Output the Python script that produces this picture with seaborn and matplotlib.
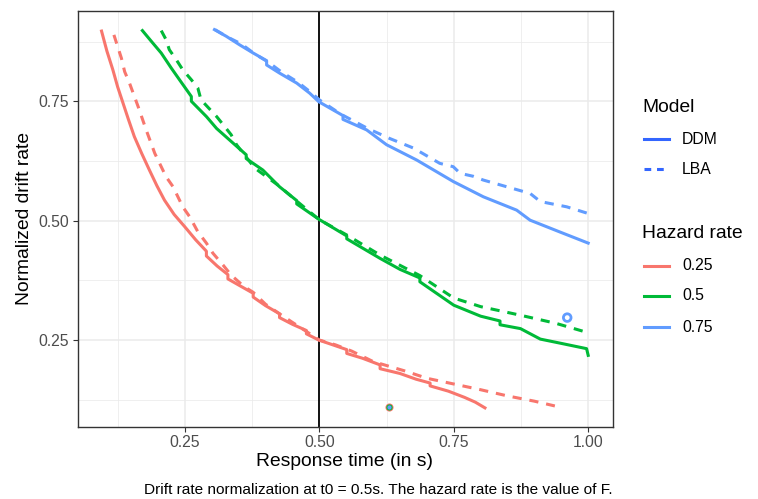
import matplotlib
matplotlib.use("Agg")
import matplotlib.pyplot as plt
from matplotlib.lines import Line2D
import numpy as np
import pandas as pd
import seaborn as sns

# ---------------- data ----------------
red_ddm_t = [0.095, 0.105, 0.116, 0.125, 0.135, 0.145, 0.156, 0.170, 0.184, 0.198, 0.212, 0.230,
             0.250, 0.270, 0.290, 0.290, 0.310, 0.330, 0.330, 0.355, 0.377, 0.377, 0.400, 0.426,
             0.426, 0.450, 0.476, 0.476, 0.499, 0.525, 0.551, 0.551, 0.580, 0.613, 0.613, 0.650,
             0.680, 0.706, 0.706, 0.740, 0.770, 0.790, 0.808]
red_ddm_v = [0.897, 0.855, 0.816, 0.780, 0.746, 0.712, 0.676, 0.640, 0.606, 0.573, 0.543, 0.513,
             0.487, 0.460, 0.436, 0.426, 0.405, 0.387, 0.378, 0.362, 0.348, 0.340, 0.322, 0.305,
             0.297, 0.283, 0.270, 0.263, 0.250, 0.240, 0.230, 0.222, 0.212, 0.198, 0.190, 0.180,
             0.168, 0.160, 0.154, 0.143, 0.130, 0.120, 0.108]
red_lba_t = [0.118, 0.132, 0.138, 0.147, 0.163, 0.178, 0.194, 0.206, 0.215, 0.228, 0.246, 0.259,
             0.274, 0.290, 0.302, 0.321, 0.336, 0.360, 0.377, 0.400, 0.426, 0.450, 0.476, 0.500,
             0.530, 0.560, 0.600, 0.630, 0.660, 0.700, 0.750, 0.800, 0.850, 0.900, 0.938]
red_lba_v = [0.889, 0.840, 0.812, 0.788, 0.739, 0.690, 0.641, 0.613, 0.592, 0.571, 0.529, 0.508,
             0.477, 0.453, 0.432, 0.407, 0.386, 0.362, 0.350, 0.325, 0.305, 0.287, 0.268, 0.250,
             0.240, 0.227, 0.205, 0.195, 0.185, 0.170, 0.158, 0.146, 0.133, 0.122, 0.112]

green_ddm_t = [0.171, 0.188, 0.206, 0.225, 0.240, 0.262, 0.262, 0.290, 0.309, 0.333, 0.364, 0.364,
               0.395, 0.426, 0.458, 0.458, 0.499, 0.551, 0.551, 0.613, 0.650, 0.687, 0.687, 0.750,
               0.800, 0.836, 0.836, 0.874, 0.911, 0.950, 0.997, 1.000]
green_ddm_v = [0.898, 0.875, 0.851, 0.819, 0.795, 0.760, 0.750, 0.718, 0.693, 0.669, 0.638, 0.630,
               0.606, 0.571, 0.542, 0.535, 0.503, 0.468, 0.462, 0.421, 0.398, 0.380, 0.372, 0.323,
               0.300, 0.290, 0.282, 0.274, 0.252, 0.243, 0.232, 0.218]
green_lba_t = [0.206, 0.215, 0.221, 0.234, 0.246, 0.262, 0.274, 0.280, 0.309, 0.324, 0.336, 0.346,
               0.380, 0.426, 0.458, 0.500, 0.551, 0.613, 0.687, 0.750, 0.800, 0.874, 0.940, 0.998]
green_lba_v = [0.898, 0.879, 0.858, 0.837, 0.816, 0.795, 0.778, 0.753, 0.718, 0.697, 0.680, 0.659,
               0.610, 0.572, 0.541, 0.502, 0.470, 0.428, 0.385, 0.338, 0.320, 0.302, 0.285, 0.266]

blue_ddm_t = [0.305, 0.327, 0.352, 0.377, 0.402, 0.402, 0.426, 0.458, 0.482, 0.499, 0.544, 0.544,
              0.588, 0.625, 0.681, 0.749, 0.805, 0.867, 0.892, 0.948, 1.000]
blue_ddm_v = [0.900, 0.886, 0.868, 0.851, 0.835, 0.826, 0.809, 0.788, 0.767, 0.749, 0.720, 0.712,
              0.690, 0.659, 0.627, 0.582, 0.550, 0.522, 0.501, 0.476, 0.453]
blue_lba_t = [0.306, 0.330, 0.355, 0.380, 0.405, 0.430, 0.460, 0.485, 0.500, 0.540, 0.590, 0.631,
              0.675, 0.724, 0.749, 0.762, 0.786, 0.805, 0.836, 0.892, 0.911, 0.960, 1.000]
blue_lba_v = [0.900, 0.884, 0.870, 0.849, 0.832, 0.811, 0.790, 0.768, 0.753, 0.723, 0.693, 0.672,
              0.652, 0.620, 0.613, 0.599, 0.593, 0.585, 0.575, 0.557, 0.540, 0.529, 0.515]

pts_t = [0.629, 0.629, 0.629]
pts_v = [0.110, 0.110, 0.110]
pts_h = ["0.25", "0.5", "0.75"]
ring_t = [0.961]
ring_v = [0.297]

hazard_levels = ["0.25", "0.5", "0.75"]
model_levels = ["DDM", "LBA"]
palette = {"0.25": "#F8766D", "0.5": "#00BA38", "0.75": "#619CFF"}

series = [
    ("0.25", "DDM", red_ddm_t, red_ddm_v), ("0.25", "LBA", red_lba_t, red_lba_v),
    ("0.5", "DDM", green_ddm_t, green_ddm_v), ("0.5", "LBA", green_lba_t, green_lba_v),
    ("0.75", "DDM", blue_ddm_t, blue_ddm_v), ("0.75", "LBA", blue_lba_t, blue_lba_v),
]
frames = [pd.DataFrame({"t": t, "v": v, "hazard": h, "model": m}) for h, m, t, v in series]
df = pd.concat(frames, ignore_index=True)

# ---------------- figure ----------------
plt.rcParams["font.family"] = ["Liberation Sans", "DejaVu Sans"]
fig = plt.figure(figsize=(7.58, 4.99), dpi=100)
ax = fig.add_axes([77.5 / 758, 1 - 426.5 / 499, 535 / 758, 415.5 / 499])

ax.set_facecolor("white")
ax.set_xlim(0.0503, 1.0452)
ax.set_ylim(0.069, 0.939)
ax.set_xticks([0.25, 0.5, 0.75, 1.0])
ax.set_xticklabels(["0.25", "0.50", "0.75", "1.00"])
ax.set_yticks([0.25, 0.5, 0.75])
ax.set_yticklabels(["0.25", "0.50", "0.75"])
ax.set_xticks([0.125, 0.375, 0.625, 0.875], minor=True)
ax.set_yticks([0.125, 0.375, 0.625, 0.875], minor=True)
ax.grid(True, which="major", color="#EBEBEB", linewidth=1.1, zorder=0)
ax.grid(True, which="minor", color="#EBEBEB", linewidth=0.55, zorder=0)
ax.set_axisbelow(True)
ax.tick_params(which="minor", length=0)
ax.tick_params(which="major", length=3.5, width=0.8, color="#333333",
               labelcolor="#4D4D4D", labelsize=11.3, pad=2.5)
for s in ax.spines.values():
    s.set_color("#333333")
    s.set_linewidth(1.0)

ax.axvline(0.5, color="black", linewidth=1.3, zorder=1)

sns.lineplot(data=df, x="t", y="v", hue="hazard", style="model",
             hue_order=hazard_levels, style_order=model_levels, palette=palette,
             dashes={"DDM": "", "LBA": (3.0, 2.6)}, sort=False, estimator=None,
             linewidth=2.2, legend=False, ax=ax, zorder=3)

ptdf = pd.DataFrame({"t": pts_t, "v": pts_v, "hazard": pts_h, "size": [34, 20, 9]})
for _, r in ptdf.iterrows():
    ax.scatter([r["t"]], [r["v"]], s=r["size"], color=palette[r["hazard"]],
               linewidths=0, zorder=4)
ringdf = pd.DataFrame({"t": ring_t, "v": ring_v})
sns.scatterplot(data=ringdf, x="t", y="v", s=30, facecolors="none", edgecolor="#619CFF",
                linewidth=2.0, legend=False, ax=ax, zorder=4)

ax.set_xlabel("Response time (in s)", fontsize=13.9, color="black", labelpad=2)
ax.set_ylabel("Normalized drift rate", fontsize=13.9, color="black", labelpad=4)

fig.text(613 / 758, 1 - 490 / 499, "Drift rate normalization at t0 = 0.5s. The hazard rate is the value of F.",
         ha="right", va="center", fontsize=11.1, color="black")

# ---------------- legend (manual) ----------------
def fx(px):
    return px / 758

def fy(py):
    return 1 - py / 499

fig.text(fx(642), fy(107), "Model", fontsize=13.9, ha="left", va="center")
fig.text(fx(642), fy(233), "Hazard rate", fontsize=13.9, ha="left", va="center")
legend_rows = [
    (139, "#3366FF", "-", "DDM"),
    (169, "#3366FF", (0, (2.2, 1.9)), "LBA"),
    (266, palette["0.25"], "-", "0.25"),
    (296, palette["0.5"], "-", "0.5"),
    (327, palette["0.75"], "-", "0.75"),
]
for py, col, ls, lab in legend_rows:
    fig.add_artist(Line2D([fx(644), fx(669)], [fy(py), fy(py)], color=col,
                          linestyle=ls, linewidth=2.2, transform=fig.transFigure))
    fig.text(fx(682), fy(py), lab, fontsize=11.3, ha="left", va="center")

fig.savefig("out.png", dpi=100, facecolor="white")
